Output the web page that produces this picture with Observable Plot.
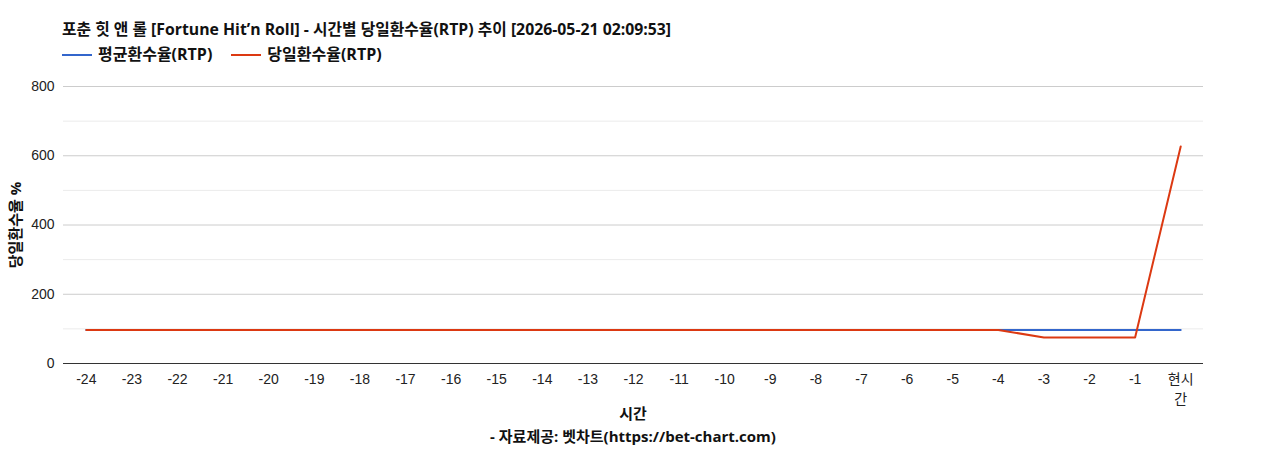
<!DOCTYPE html>
<html>
<head>
<meta charset="utf-8">
<script src="https://cdn.jsdelivr.net/npm/d3@7"></script>
<script src="https://cdn.jsdelivr.net/npm/@observablehq/plot@0.6"></script>
<style>
  html, body { margin: 0; padding: 0; background: #fff; }
  #wrap { position: relative; width: 1268px; height: 450px; overflow: hidden; font-family: Arial, "Liberation Sans", "Noto Sans CJK KR", sans-serif; color: #222; }
  .bt { font-family: "Open Sans", "Noto Sans CJK KR", sans-serif; font-weight: bold; font-size: 15px; color: #111; white-space: nowrap; position: absolute; line-height: 1.2; }
  #title { left: 62px; top: 20px; font-size: 15.8px; }
  #legend { left: 62px; top: 45px; display: flex; gap: 19px; font-size: 16px; }
  .li { display: flex; align-items: center; gap: 6px; }
  .sw { display: inline-block; width: 30px; height: 2px; }
  #chart { position: absolute; left: 0; top: 70px; }
  #ytitle { left: 15px; top: 225px; transform: translate(-50%, -50%) rotate(-90deg); }
  #xtitle { left: 633px; top: 404px; transform: translateX(-50%); }
  #caption { left: 633px; top: 427px; transform: translateX(-50%); }
</style>
</head>
<body>
<div id="wrap">
  <div id="chart"></div>
  <div id="title" class="bt"></div>
  <div id="legend" class="bt"></div>
  <div id="ytitle" class="bt"></div>
  <div id="xtitle" class="bt"></div>
  <div id="caption" class="bt"></div>
</div>
<script>
const titleText = "포춘 힛 앤 롤 [Fortune Hit’n Roll] - 시간별 당일환수율(RTP) 추이 [2026-05-21 02:09:53]";
const yTitle = "당일환수율 %";
const xTitle = "시간";
const captionText = "- 자료제공: 벳차트(https://bet-chart.com)";

const hours = ["-24","-23","-22","-21","-20","-19","-18","-17","-16","-15","-14","-13","-12","-11","-10","-9","-8","-7","-6","-5","-4","-3","-2","-1","현시간"];
const avgRTP = [97,97,97,97,97,97,97,97,97,97,97,97,97,97,97,97,97,97,97,97,97,97,97,97,97];
const dayRTP = [97,97,97,97,97,97,97,97,97,97,97,97,97,97,97,97,97,97,97,97,97,75,75,75,627];
const seriesNames = ["평균환수율(RTP)", "당일환수율(RTP)"];
const seriesColors = ["#3366cc", "#dc3912"];
const yTicks = [0, 200, 400, 600, 800];
const yMinor = [100, 300, 500, 700];

document.getElementById("title").textContent = titleText;
document.getElementById("ytitle").textContent = yTitle;
document.getElementById("xtitle").textContent = xTitle;
document.getElementById("caption").textContent = captionText;
const legend = document.getElementById("legend");
seriesNames.forEach((n, i) => {
  const d = document.createElement("div");
  d.className = "li";
  d.innerHTML = `<span class="sw" style="background:${seriesColors[i]}"></span><span></span>`;
  d.lastChild.textContent = n;
  legend.appendChild(d);
});

const avgData = hours.map((h, i) => ({h, v: avgRTP[i]}));
const dayData = hours.map((h, i) => ({h, v: dayRTP[i]}));

const chart = Plot.plot({
  width: 1268,
  height: 345,
  marginLeft: 63,
  marginRight: 65,
  marginTop: 16,
  marginBottom: 52,
  style: {fontFamily: "Arial, 'Liberation Sans', 'Noto Sans CJK KR', sans-serif", fontSize: "14px", color: "#222", background: "transparent"},
  x: {type: "point", domain: hours, padding: 0.5, round: false},
  y: {domain: [0, 800]},
  marks: [
    Plot.ruleY(yMinor, {stroke: "#ebebeb", strokeWidth: 1, strokeOpacity: 1}),
    Plot.ruleY(yTicks.filter(t => t > 0), {stroke: "#cccccc", strokeWidth: 1, strokeOpacity: 1}),
    Plot.axisY({ticks: yTicks, tickSize: 0, tickPadding: 9, label: null, fontSize: 14}),
    Plot.axisX({tickSize: 0, tickPadding: 7, label: null, fontSize: 14, lineHeight: 1.4,
      tickFormat: d => d === "현시간" ? "현시\n간" : d}),
    Plot.ruleY([0], {stroke: "#333", strokeWidth: 1}),
    Plot.line(avgData, {x: "h", y: "v", stroke: seriesColors[0], strokeWidth: 2}),
    Plot.line(dayData, {x: "h", y: "v", stroke: seriesColors[1], strokeWidth: 2})
  ]
});
document.getElementById("chart").appendChild(chart);
</script>
</body>
</html>
